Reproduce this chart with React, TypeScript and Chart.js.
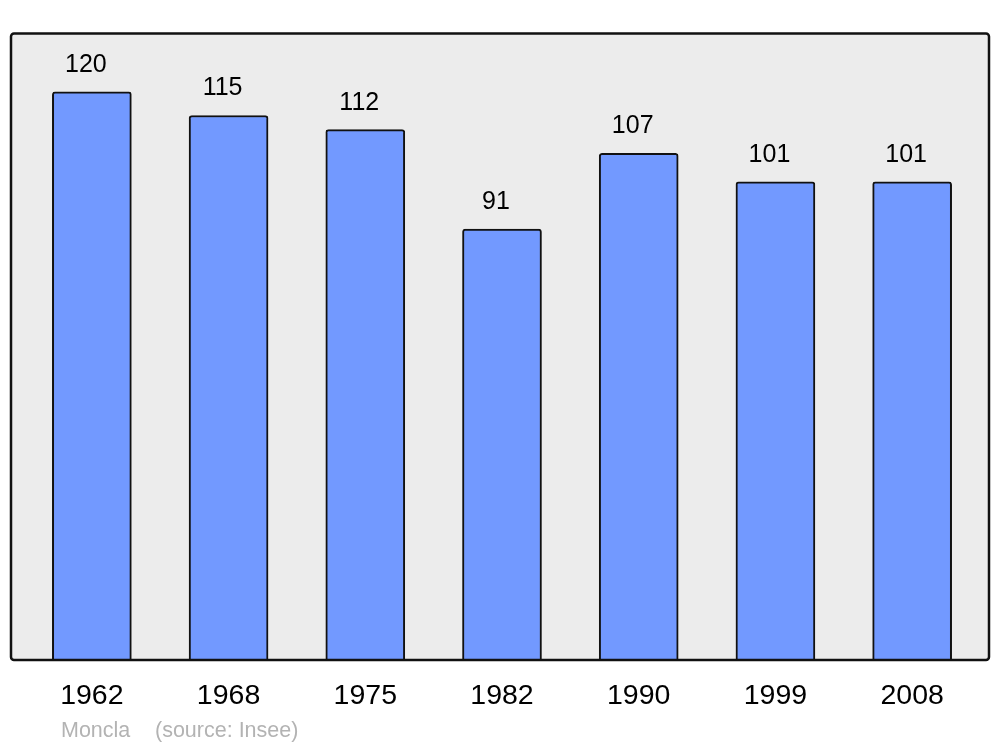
import React, { useEffect, useRef } from "react";
import { Chart, registerables } from "chart.js";

Chart.register(...registerables);

const years = ["1962", "1968", "1975", "1982", "1990", "1999", "2008"];
const population = [120, 115, 112, 91, 107, 101, 101];
const footerPlace = "Moncla";
const footerSource = "(source: Insee)";

const FONT = "'Liberation Sans', Arial, sans-serif";

const framePlugin = {
  id: "frame",
  beforeDraw(chart: any) {
    const ctx = chart.ctx;
    const ca = chart.chartArea;
    const x0 = ca.left - 12.5;
    const x1 = ca.right + 8.5;
    const y0 = ca.top - 1.5;
    const y1 = ca.bottom;
    ctx.save();
    ctx.beginPath();
    ctx.roundRect(x0, y0, x1 - x0, y1 - y0, 3);
    ctx.fillStyle = "#ececec";
    ctx.fill();
    ctx.restore();
  },
  afterDatasetsDraw(chart: any) {
    const ctx = chart.ctx;
    const ca = chart.chartArea;
    const x0 = ca.left - 12.5;
    const x1 = ca.right + 8.5;
    const y0 = ca.top - 1.5;
    const y1 = ca.bottom;
    ctx.save();
    ctx.beginPath();
    ctx.roundRect(x0, y0, x1 - x0, y1 - y0, 3);
    ctx.lineWidth = 2.5;
    ctx.strokeStyle = "#111111";
    ctx.stroke();
    // value labels
    const meta = chart.getDatasetMeta(0);
    ctx.fillStyle = "#000000";
    ctx.font = `25px ${FONT}`;
    ctx.textAlign = "center";
    ctx.textBaseline = "middle";
    meta.data.forEach((bar: any, i: number) => {
      ctx.fillText(String(population[i]), bar.x - 6, bar.y - 27);
    });
    // footer
    ctx.fillStyle = "#b3b3b3";
    ctx.font = `21.5px ${FONT}`;
    ctx.textAlign = "left";
    ctx.fillText(footerPlace, 61, 731);
    ctx.fillText(footerSource, 155, 731);
    ctx.restore();
  },
};

export default function App() {
  const ref = useRef<HTMLCanvasElement>(null);
  useEffect(() => {
    if (!ref.current) return;
    const chart = new Chart(ref.current, {
      type: "bar",
      data: {
        labels: years,
        datasets: [
          {
            data: population,
            backgroundColor: "#7299ff",
            borderColor: "#111111",
            borderWidth: 2,
            borderRadius: { topLeft: 3, topRight: 3, bottomLeft: 0, bottomRight: 0 },
            borderSkipped: "bottom",
            barThickness: 79,
          },
        ],
      },
      options: {
        animation: false,
        responsive: false,
        maintainAspectRatio: false,
        layout: { padding: { left: 23.5, right: 19.5, top: 35, bottom: 0 } },
        plugins: {
          legend: { display: false },
          tooltip: { enabled: false },
        },
        scales: {
          x: {
            grid: { display: false, drawTicks: false },
            border: { display: false },
            ticks: {
              color: "#000000",
              font: { family: FONT, size: 28.5 },
              padding: 19,
              maxRotation: 0,
            },
            afterFit: (scale: any) => {
              scale.height = 87;
            },
          },
          y: {
            display: false,
            min: 0,
            max: 132,
          },
        },
      },
      plugins: [framePlugin],
    });
    return () => chart.destroy();
  }, []);
  return (
    <div style={{ position: "absolute", left: 0, top: 0, width: 1000, height: 747, background: "#ffffff" }}>
      <canvas ref={ref} width={1000} height={747} style={{ width: 1000, height: 747 }} />
    </div>
  );
}
